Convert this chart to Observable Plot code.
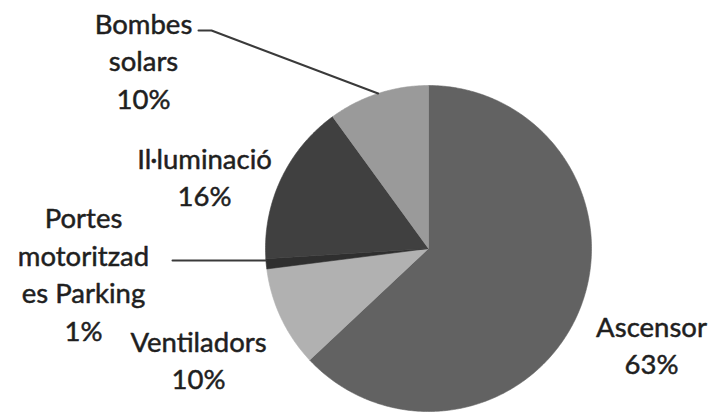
<!DOCTYPE html>
<html>
<head>
<meta charset="utf-8">
<script src="https://cdn.jsdelivr.net/npm/d3@7"></script>
<script src="https://cdn.jsdelivr.net/npm/@observablehq/plot@0.6"></script>
<style>
  html, body { margin: 0; padding: 0; background: #fff; }
  svg { display: block; }
</style>
</head>
<body>
<div id="chart"></div>
<script>
// ---- data ----
const categories = ["Ascensor", "Ventiladors", "Portes motoritzades Parking", "Il·luminació", "Bombes solars"];
const labelTexts = ["Ascensor", "Ventiladors", "Portes\nmotoritzad\nes Parking", "Il·luminació", "Bombes\nsolars"];
const values = [63, 10, 1, 16, 10];
const colors = ["#626262", "#b1b1b1", "#2f2f2f", "#404040", "#9a9a9a"];

// ---- layout ----
const W = 710, H = 413;
const cx = 428, cy = 248, R = 163; // pie centre and radius in pixels
// label block centres (pixels)
const labelPos = [[651, 343], [198, 358], [83, 272], [204, 175], [143, 59]];
// leader lines: start points in pixels; end on the slice's outer arc
// (horizontal: end at the arc at the start's height)
const leaders = [
  {i: 4, from: [[198, 30], [211, 30]], horizontal: false},
  {i: 2, from: [[172, 260]], horizontal: true}
];

const ux = px => (px - cx) / R;
const uy = py => (cy - py) / R;

const total = d3.sum(values);
let acc = 0;
const slices = values.map((v, i) => {
  const a0 = acc / total * 2 * Math.PI;
  acc += v;
  const a1 = acc / total * 2 * Math.PI;
  return {name: categories[i], a0, a1, mid: (a0 + a1) / 2, value: v};
});

const slicePts = [];
slices.forEach(s => {
  slicePts.push({name: s.name, x: 0, y: 0});
  const n = Math.max(2, Math.ceil((s.a1 - s.a0) / 0.01));
  for (let k = 0; k <= n; k++) {
    const a = s.a0 + (s.a1 - s.a0) * k / n;
    slicePts.push({name: s.name, x: Math.sin(a), y: Math.cos(a)});
  }
  slicePts.push({name: s.name, x: 0, y: 0});
});

const leaderPts = [];
leaders.forEach((l, j) => {
  l.from.forEach(p => leaderPts.push({id: j, x: ux(p[0]), y: uy(p[1])}));
  if (l.horizontal) {
    const y = uy(l.from[l.from.length - 1][1]);
    const m = slices[l.i].mid;
    leaderPts.push({id: j, x: Math.sign(Math.sin(m)) * Math.sqrt(1 - y * y), y});
  } else {
    const m = slices[l.i].mid;
    leaderPts.push({id: j, x: Math.sin(m), y: Math.cos(m)});
  }
});

const labels = slices.map((s, i) => ({
  text: labelTexts[i] + "\n" + s.value + "%",
  x: ux(labelPos[i][0]),
  y: uy(labelPos[i][1])
}));

const chart = Plot.plot({
  width: W,
  height: H,
  margin: 0,
  style: {background: "#fff", fontFamily: "Lato, 'Open Sans', sans-serif"},
  x: {domain: [ux(0), ux(W)], range: [0, W], axis: null},
  y: {domain: [uy(H), uy(0)], range: [H, 0], axis: null},
  color: {domain: categories, range: colors},
  marks: [
    Plot.line(slicePts, {x: "x", y: "y", z: "name", fill: "name", stroke: "name", strokeWidth: 0.6, curve: "linear"}),
    Plot.line(leaderPts, {x: "x", y: "y", z: "id", stroke: "#3a3a3a", strokeWidth: 2}),
    Plot.text(labels, {x: "x", y: "y", text: "text", fontSize: 27.5, lineHeight: 1.36, fill: "#1f1f1f", stroke: "#1f1f1f", strokeWidth: 0.5, textAnchor: "middle", lineAnchor: "middle"})
  ]
});
document.getElementById("chart").appendChild(chart);
</script>
</body>
</html>
